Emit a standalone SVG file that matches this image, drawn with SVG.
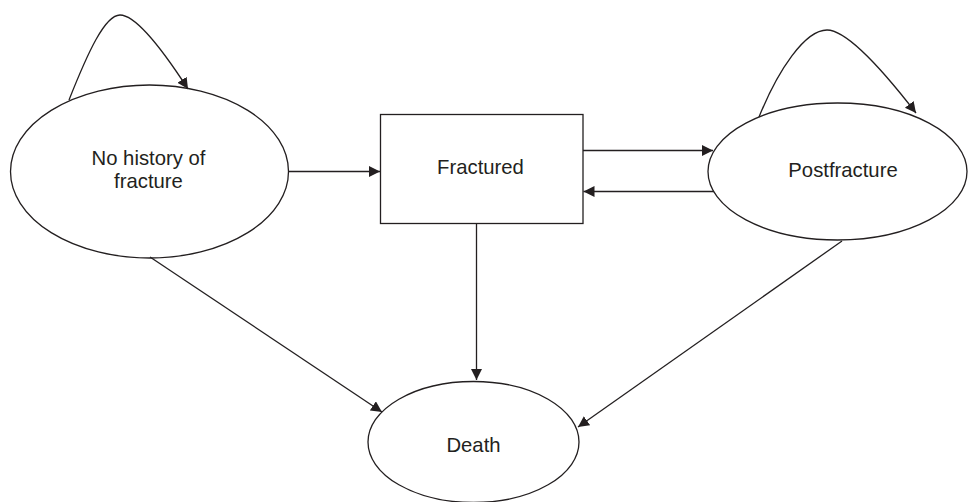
<svg xmlns="http://www.w3.org/2000/svg" width="968" height="502" viewBox="0 0 968 502">
<style>
.shape{fill:#ffffff;stroke:#231f20;stroke-width:1.3}
.edge{fill:none;stroke:#231f20;stroke-width:1.3;marker-end:url(#arrow)}
.label{font-family:"Liberation Sans",Arial,sans-serif;font-size:20.3px;fill:#231f20;text-anchor:middle}
</style>
<defs>
<marker id="arrow" markerUnits="userSpaceOnUse" markerWidth="12" markerHeight="12" refX="11" refY="5.5" orient="auto">
<path d="M0,0 L11,5.5 L0,11 Z" fill="#231f20"/>
</marker>
</defs>
<rect width="968" height="502" fill="#ffffff"/>
<g id="node-nohistory">
<ellipse class="shape" cx="149.5" cy="171.5" rx="139" ry="86.5"/>
<text class="label" x="148.5" y="165">No history of</text>
<text class="label" x="148.5" y="188">fracture</text>
</g>
<g id="node-fractured">
<rect class="shape" x="380.5" y="114.5" width="202.5" height="109"/>
<text class="label" x="480.5" y="174">Fractured</text>
</g>
<g id="node-postfracture">
<ellipse class="shape" cx="837.5" cy="171.5" rx="129.5" ry="68.5"/>
<text class="label" x="843" y="177">Postfracture</text>
</g>
<g id="node-death">
<ellipse class="shape" cx="473.5" cy="442" rx="105.5" ry="60.5"/>
<text class="label" x="473.5" y="452">Death</text>
</g>
<g id="connectors">
<path class="edge" d="M69,100 C88,52 105,15 120,15 C133,15 155,38 188,89"/>
<path class="edge" d="M759,117 C778,70 805,30 827,30 C845,30 875,60 916,113"/>
<path class="edge" d="M289,171.5 L380,171.5"/>
<path class="edge" d="M583,150.5 L713,150.5"/>
<path class="edge" d="M714,191.5 L583.5,191.5"/>
<path class="edge" d="M476.5,224 L476.5,380"/>
<path class="edge" d="M150,257 L382,412"/>
<path class="edge" d="M842,241 L578,427"/>
</g>
</svg>
